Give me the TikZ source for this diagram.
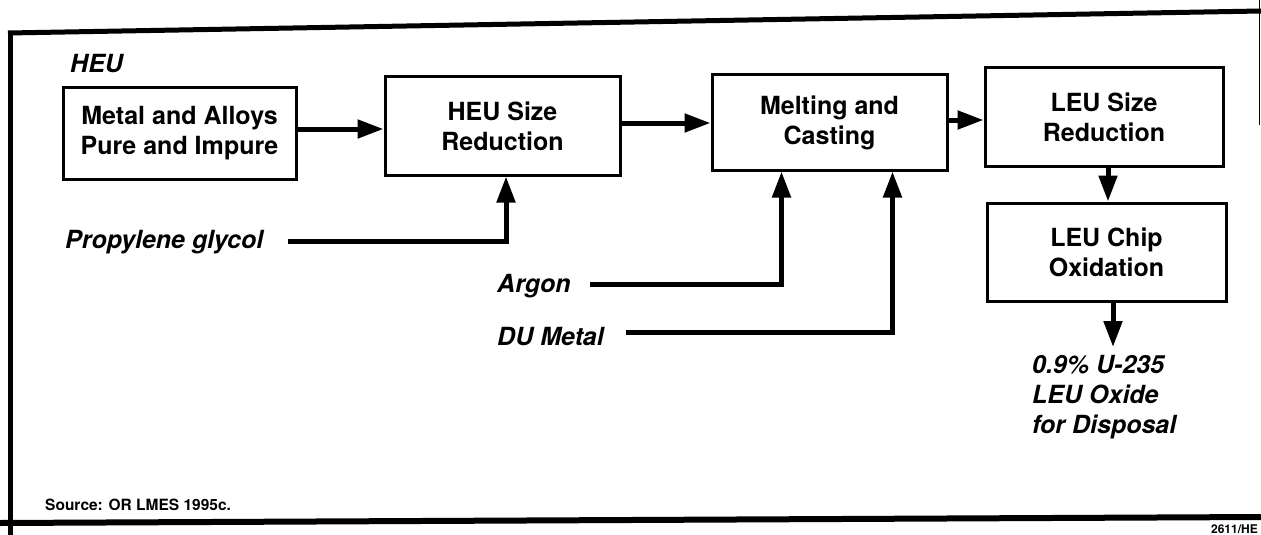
\documentclass[tikz,border=0pt]{standalone}
\usepackage{fontspec}
\setmainfont{TeX Gyre Heros}
\usetikzlibrary{arrows.meta}
\begin{document}
\begin{tikzpicture}[x=1pt,y=-1pt,
  box/.style={draw, line width=3pt, align=center, inner sep=0pt,
    font=\bfseries\fontsize{25}{30}\selectfont},
  lbl/.style={inner sep=0pt, font=\bfseries\itshape\fontsize{25}{30}\selectfont},
  small/.style={inner sep=0pt, font=\bfseries\fontsize{15.5}{18}\selectfont},
  conn/.style={line width=5pt},
  arr/.style={conn, -{Triangle[length=26pt,width=18pt]}},
  framepen/.style={line width=5pt}]
\useasboundingbox (0,0) rectangle (1261,535);
\fill[white] (0,0) rectangle (1261,535);

% frame
\draw[framepen] (8,33) -- (1261,11);
\draw[framepen] (10,31) -- (10,535);
\draw[line width=6pt] (0,523) -- (1261,517);
\draw[line width=1pt] (1259,0) -- (1259,125);

% boxes
\node[box, minimum width=233pt, minimum height=92pt] (b1) at (179.5,133) {Metal and Alloys\\Pure and Impure};
\node[box, minimum width=235pt, minimum height=98pt] (b2) at (502.5,126) {HEU Size\\Reduction};
\node[box, minimum width=235pt, minimum height=95pt] (b3) at (829.5,122.5) {Melting and\\Casting};
\node[box, minimum width=238pt, minimum height=98pt] (b4) at (1104,117) {LEU Size\\Reduction};
\node[box, minimum width=239pt, minimum height=98pt] (b5) at (1106.5,252) {LEU Chip\\Oxidation};

% labels
\node[lbl, anchor=west] (heu) at (70,64) {HEU};
\node[lbl, anchor=west] (pg) at (65,242) {Propylene glycol};
\node[lbl, anchor=west] (ar) at (497,286) {Argon};
\node[lbl, anchor=west] (du) at (497,337) {DU Metal};
\node[lbl, anchor=west, align=left] (out) at (1032,397) {0.9\% U-235\\LEU Oxide\\for Disposal};
\node[small, anchor=west] (src) at (45,505) {Source: OR LMES 1995c.};
\node[inner sep=0pt, font=\bfseries\fontsize{12}{14}\selectfont, anchor=base east] (code) at (1258,533) {2611/HE};

% main flow
\draw[arr] ([yshift=4pt]b1.east) -- ([yshift=4pt]b1.east -| b2.west);
\draw[arr] ([yshift=3pt]b2.east) -- ([yshift=3pt]b2.east -| b3.west);
\draw[arr] ([yshift=2.5pt]b3.east) -- ([yshift=2.5pt]b3.east -| b4.west);
\draw[arr] ([xshift=4pt]b4.south) -- ([xshift=4pt]b4.south |- b5.north);
\coordinate (outtip) at (1113,347);
\draw[arr] (b5.south -| outtip) -- (outtip);

% inputs
\draw[arr] ([xshift=25pt,yshift=1pt]pg.east) -| ([xshift=3.5pt]b2.south);
\draw[arr] ([xshift=19pt,yshift=2pt]ar.east) -| ([xshift=71pt]b3.south west);
\draw[arr] ([xshift=22pt,yshift=5pt]du.east) -| ([xshift=-56pt]b3.south east);
\end{tikzpicture}
\end{document}
